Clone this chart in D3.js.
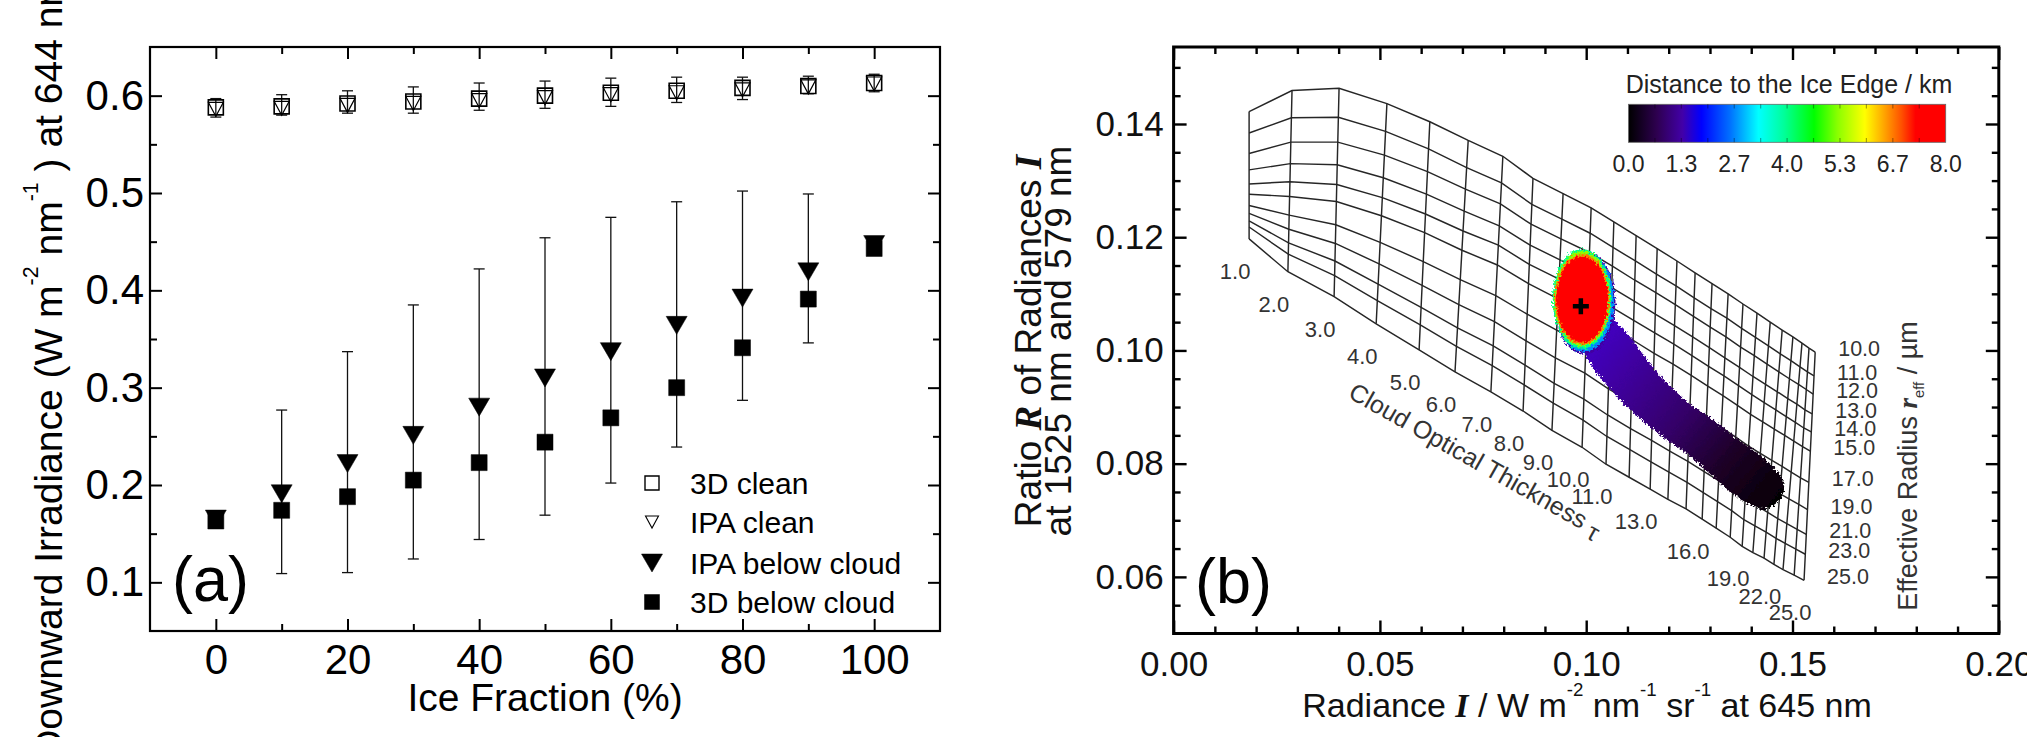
<!DOCTYPE html>
<html>
<head>
<meta charset="utf-8">
<script src="https://cdn.jsdelivr.net/npm/d3@7"></script>
<style>
  body { margin: 0; background: #fff; }
  svg { display: block; }
</style>
</head>
<body>
<svg id="fig" width="2027" height="737"></svg>
<script>
// ---------- panel (a) data ----------
const iceFraction = [0, 10, 20, 30, 40, 50, 60, 70, 80, 90, 100];
const clean3D    = [0.588, 0.589, 0.592, 0.594, 0.597, 0.600, 0.603, 0.605, 0.608, 0.610, 0.613];
const cleanIPA   = [0.586, 0.587, 0.590, 0.592, 0.595, 0.598, 0.601, 0.603, 0.606, 0.609, 0.612];
const cleanErrLo = [0.578, 0.580, 0.582, 0.582, 0.585, 0.587, 0.589, 0.593, 0.596, 0.602, 0.604];
const cleanErrHi = [0.597, 0.601, 0.605, 0.609, 0.613, 0.615, 0.618, 0.619, 0.619, 0.620, 0.622];
const belowIPA   = [0.165, 0.191, 0.222, 0.251, 0.280, 0.310, 0.337, 0.364, 0.392, 0.419, 0.447];
const below3D    = [0.163, 0.174, 0.188, 0.205, 0.223, 0.244, 0.269, 0.300, 0.341, 0.391, 0.443];
const belowErrLo = [0.156, 0.109, 0.110, 0.124, 0.144, 0.169, 0.202, 0.239, 0.287, 0.346, 0.437];
const belowErrHi = [0.173, 0.277, 0.337, 0.385, 0.422, 0.454, 0.475, 0.491, 0.502, 0.499, 0.453];
const legendLabels = ["3D clean", "IPA clean", "IPA below cloud", "3D below cloud"];

// ---------- panel (b) data ----------
const tauVals  = [1,2,3,4,5,6,7,8,9,10,11,12,13,14,15,16,17,18,19,20,21,22,23,24,25];
const tauLabels = [1,2,3,4,5,6,7,8,9,10,11,13,16,19,22,25];
const reffVals = [10, 11, 12, 13, 14, 15, 17, 19, 21, 23, 25];
// radiance of each tau column at reff = 10 and reff = 25
const radTop = [0.0183,0.0287,0.0401,0.0517,0.0621,0.0714,0.0798,0.0871,0.0944,0.1012,0.1067,0.1121,0.1172,0.1220,0.1264,0.1305,0.1344,0.1380,0.1414,0.1446,0.1475,0.1501,0.1523,0.1540,0.1555];
const radBot = [0.0183,0.0277,0.0389,0.0491,0.0595,0.0682,0.0769,0.0847,0.0917,0.0990,0.1048,0.1104,0.1155,0.1198,0.1242,0.1281,0.1315,0.1349,0.1378,0.1404,0.1431,0.1455,0.1477,0.1504,0.1528];
// ratio R at each (tau, reff) node, one row per tau
const ratioGrid = [
  [.1422,.1384,.1348,.1319,.1294,.1276,.1256,.1242,.1229,.1218,.1197],
  [.1459,.1411,.1368,.1330,.1298,.1272,.1239,.1214,.1190,.1170,.1139],
  [.1463,.1412,.1368,.1328,.1293,.1263,.1222,.1189,.1158,.1132,.1095],
  [.1436,.1387,.1345,.1305,.1270,.1238,.1191,.1153,.1117,.1088,.1047],
  [.1404,.1356,.1316,.1276,.1241,.1208,.1157,.1115,.1076,.1045,.1001],
  [.1371,.1323,.1285,.1246,.1211,.1177,.1125,.1081,.1040,.1007,.0962],
  [.1343,.1296,.1259,.1220,.1186,.1151,.1097,.1051,.1008,.0973,.0927],
  [.1304,.1258,.1223,.1186,.1152,.1118,.1064,.1017,.0974,.0939,.0893],
  [.1277,.1232,.1197,.1160,.1126,.1091,.1036,.0987,.0942,.0907,.0859],
  [.1252,.1207,.1173,.1135,.1101,.1066,.1009,.0960,.0914,.0877,.0829],
  [.1227,.1182,.1149,.1111,.1077,.1042,.0983,.0932,.0886,.0848,.0799],
  [.1203,.1158,.1124,.1087,.1053,.1018,.0960,.0909,.0862,.0825,.0776],
  [.1180,.1135,.1102,.1064,.1031,.0995,.0938,.0887,.0841,.0803,.0755],
  [.1158,.1114,.1081,.1044,.1011,.0976,.0918,.0868,.0822,.0785,.0737],
  [.1137,.1093,.1060,.1024,.0991,.0956,.0899,.0849,.0804,.0767,.0720],
  [.1118,.1074,.1041,.1005,.0972,.0937,.0881,.0831,.0786,.0749,.0702],
  [.1100,.1057,.1024,.0987,.0955,.0920,.0864,.0815,.0770,.0733,.0686],
  [.1082,.1039,.1006,.0970,.0938,.0903,.0847,.0798,.0753,.0717,.0670],
  [.1066,.1023,.0991,.0954,.0922,.0887,.0831,.0782,.0737,.0701,.0654],
  [.1050,.1008,.0976,.0940,.0908,.0874,.0818,.0770,.0726,.0690,.0643],
  [.1036,.0994,.0962,.0927,.0895,.0861,.0806,.0758,.0714,.0679,.0633],
  [.1024,.0982,.0950,.0915,.0883,.0850,.0795,.0747,.0703,.0668,.0622],
  [.1013,.0971,.0940,.0905,.0873,.0840,.0785,.0738,.0694,.0659,.0613],
  [.1004,.0962,.0931,.0895,.0863,.0830,.0775,.0728,.0684,.0649,.0603],
  [.0997,.0955,.0923,.0888,.0856,.0822,.0767,.0719,.0675,.0640,.0594]
];
// outline of the low-distance tail of the measurement cloud (radiance, ratio)
const tailOutline = [
  [.1048,.1091],[.1063,.1059],[.1101,.1029],[.1150,.0981],[.1198,.0941],[.1252,.0905],
  [.1305,.0879],[.1361,.0847],[.1409,.0822],[.1450,.0797],[.1475,.0774],[.1479,.0752],
  [.1465,.0733],[.1433,.0720],[.1397,.0727],[.1350,.0750],[.1300,.0782],[.1250,.0815],
  [.1200,.0840],[.1150,.0868],[.1100,.0900],[.1058,.0932],[.1022,.0964],[.0995,.0995],
  [.0978,.1025],[.0975,.1045]
];
const tailColors = ["#4300c6", "#3e0098", "#340068", "#1d0026", "#060006"];
// near-ice-edge core: rings of distance (km) with half-widths in data units
const coreCenter = [0.0990, 0.1090];
const coreRings = [
  { km: 1.3, rI: 0.0075, rR: 0.0091, dI: 0.0006, dR: -0.0005 },
  { km: 2.7, rI: 0.0073, rR: 0.0089, dI: 0.0004, dR: -0.0003 },
  { km: 4.0, rI: 0.0071, rR: 0.0088, dI: 0.0000, dR: 0.0001 },
  { km: 5.3, rI: 0.0068, rR: 0.0084, dI: 0.0000, dR: 0.0001 },
  { km: 6.7, rI: 0.0066, rR: 0.0080, dI: 0.0000, dR: 0.0000 },
  { km: 8.0, rI: 0.0063, rR: 0.0076, dI: 0.0000, dR: 0.0000 }
];
const crossPoint = [0.0987, 0.1078];
// colour table of the distance bar
const cbStops  = [0, 0.09, 0.17, 0.23, 0.32, 0.41, 0.49, 0.585, 0.66, 0.745, 0.80, 0.86, 0.905, 1];
const cbColors = ["#000000","#2e0050","#4200a8","#0000ff","#0070ff","#00ffff","#00ff9a","#00ff00","#8cff00","#ffff00","#ffae00","#ff5200","#ff0000","#ff0000"];
const cbLabels = ["0.0", "1.3", "2.7", "4.0", "5.3", "6.7", "8.0"];

// ---------- helpers ----------
const FONT = '"Liberation Sans", Arial, Helvetica, sans-serif';
const SERIF = '"Liberation Serif", "Times New Roman", serif';

const svg = d3.select("#fig");
svg.append("rect").attr("width", 2027).attr("height", 737).attr("fill", "#fff");
const defs = svg.append("defs");

function txt(g, x, y, size, anchor, rot) {
  const t = rot === undefined ? `translate(${x},${y})` : `translate(${x},${y}) rotate(${rot})`;
  return g.append("text")
    .attr("transform", t)
    .attr("font-family", FONT)
    .attr("font-size", size)
    .attr("text-anchor", anchor || "start");
}

// parts: strings or {t, sup|sub|low|bi}
function rich(sel, parts, size) {
  let shift = 0;
  parts.forEach(p => {
    if (typeof p === "string") p = { t: p };
    const ts = sel.append("tspan").text(p.t);
    let target = 0;
    if (p.sup) { ts.attr("font-size", size * 0.55); target = -0.62 * size; }
    if (p.sub) { ts.attr("font-size", size * 0.55); target = 0.25 * size; }
    if (p.low) target = 0.2 * size;
    if (p.bi) ts.attr("font-family", SERIF).attr("font-weight", "bold").attr("font-style", "italic");
    if (target !== shift) { ts.attr("dy", target - shift); shift = target; }
  });
  return sel;
}

function drawAxes(g, x, y, o) {
  const [x0, x1] = x.range(), [y0, y1] = y.range();
  const put = (axis, tr) => g.append("g").attr("transform", tr).call(axis);
  // minor ticks on all four sides
  put(d3.axisBottom(x).tickValues(o.xMinor).tickSize(-o.minor).tickFormat(""), `translate(0,${y0})`);
  put(d3.axisTop(x).tickValues(o.xMinor).tickSize(-o.minor).tickFormat(""), `translate(0,${y1})`);
  put(d3.axisLeft(y).tickValues(o.yMinor).tickSize(-o.minor).tickFormat(""), `translate(${x0},0)`);
  put(d3.axisRight(y).tickValues(o.yMinor).tickSize(-o.minor).tickFormat(""), `translate(${x1},0)`);
  // major ticks
  put(d3.axisTop(x).tickValues(o.xMajor).tickSize(-o.major).tickFormat(""), `translate(0,${y1})`);
  put(d3.axisRight(y).tickValues(o.yMajor).tickSize(-o.major).tickFormat(""), `translate(${x1},0)`);
  const bx = put(d3.axisBottom(x).tickValues(o.xMajor).tickSize(-o.major).tickPadding(o.padX).tickFormat(o.fmtX), `translate(0,${y0})`);
  const ly = put(d3.axisLeft(y).tickValues(o.yMajor).tickSize(-o.major).tickPadding(o.padY).tickFormat(o.fmtY), `translate(${x0},0)`);
  [bx, ly].forEach(a => a.attr("font-size", o.fontSize).attr("font-family", FONT)
    .selectAll("text").attr("fill", o.color));
  g.selectAll(".domain").remove();
  g.selectAll(".tick line").attr("stroke", "#000").attr("stroke-width", o.tickW);
  g.append("rect").attr("x", x0).attr("y", y1).attr("width", x1 - x0).attr("height", y0 - y1)
    .attr("fill", "none").attr("stroke", "#000").attr("stroke-width", o.frame);
}

const squarePath = s => `M${-s / 2},${-s / 2}h${s}v${s}h${-s}Z`;
const triPath = (w, h) => `M${-w / 2},${-h / 2}L${w / 2},${-h / 2}L0,${h / 2}Z`;

// ================= panel (a) =================
const ga = svg.append("g");
const xa = d3.scaleLinear().domain([-10, 110]).range([150, 940]);
const ya = d3.scaleLinear().domain([0.05, 0.65]).range([631, 47]);

drawAxes(ga, xa, ya, {
  xMajor: [0, 20, 40, 60, 80, 100], xMinor: [10, 30, 50, 70, 90],
  yMajor: [0.1, 0.2, 0.3, 0.4, 0.5, 0.6], yMinor: [0.15, 0.25, 0.35, 0.45, 0.55],
  major: 12, minor: 7, tickW: 2, frame: 2.2, padX: 13, padY: 6,
  fmtX: d3.format("d"), fmtY: d3.format(".1f"), fontSize: 42, color: "#000"
});

// error bars
function errorBars(lo, hi, cap) {
  const eb = ga.append("g").attr("stroke", "#111").attr("stroke-width", 1.3).attr("fill", "none");
  iceFraction.forEach((f, i) => {
    const cx = xa(f);
    eb.append("line").attr("x1", cx).attr("x2", cx).attr("y1", ya(lo[i])).attr("y2", ya(hi[i]));
    [lo[i], hi[i]].forEach(v => eb.append("line")
      .attr("x1", cx - cap).attr("x2", cx + cap).attr("y1", ya(v)).attr("y2", ya(v)));
  });
}
errorBars(belowErrLo, belowErrHi, 5.5);
errorBars(cleanErrLo, cleanErrHi, 5.5);

function markers(vals, d, fill, stroke) {
  ga.append("g").selectAll("path").data(vals).join("path")
    .attr("transform", (v, i) => `translate(${xa(iceFraction[i])},${ya(v)})`)
    .attr("d", d).attr("fill", fill).attr("stroke", "#000").attr("stroke-width", stroke);
}
markers(clean3D, squarePath(15), "none", 1.6);
markers(cleanIPA, triPath(15, 14), "none", 1.2);
markers(belowIPA, triPath(21, 18), "#000", 0.5);
markers(below3D, squarePath(16), "#000", 0.5);

// legend
const legSym = [
  { d: squarePath(14), fill: "none", sw: 1.4 },
  { d: triPath(13, 12), fill: "none", sw: 1.1 },
  { d: triPath(21, 18), fill: "#000", sw: 0.5 },
  { d: squarePath(15), fill: "#000", sw: 0.5 }
];
const legY = [483, 522, 563, 602];
legendLabels.forEach((lab, i) => {
  ga.append("path").attr("transform", `translate(652,${legY[i]})`)
    .attr("d", legSym[i].d).attr("fill", legSym[i].fill).attr("stroke", "#000").attr("stroke-width", legSym[i].sw);
  txt(ga, 690, legY[i] + 11, 30).text(lab);
});

txt(ga, 172, 601, 63).text("(a)");
txt(ga, 545, 711, 39, "middle").text("Ice Fraction (%)");
rich(txt(ga, 62, 366, 39, "middle", -90),
  ["Downward Irradiance (W m", { t: "-2", sup: 1 }, " nm", { t: "-1", sup: 1 }, " ) at 644 nm"], 39);

// ================= panel (b) =================
const gb = svg.append("g");
const xb = d3.scaleLinear().domain([0, 0.2]).range([1173.6, 1998.8]);
const yb = d3.scaleLinear().domain([0.05, 0.1536]).range([633.5, 47]);

drawAxes(gb, xb, yb, {
  xMajor: [0, 0.05, 0.1, 0.15, 0.2],
  xMinor: [0.01,0.02,0.03,0.04,0.06,0.07,0.08,0.09,0.11,0.12,0.13,0.14,0.16,0.17,0.18,0.19],
  yMajor: [0.06, 0.08, 0.10, 0.12, 0.14],
  yMinor: [0.055,0.065,0.07,0.075,0.085,0.09,0.095,0.105,0.11,0.115,0.125,0.13,0.135,0.145,0.15],
  major: 13, minor: 7, tickW: 2.4, frame: 3, padX: 18, padY: 10,
  fmtX: d3.format(".2f"), fmtY: d3.format(".2f"), fontSize: 35, color: "#111"
});

// LUT mesh: node radiance lies on the straight tau column at the node's ratio
const node = (t, j) => {
  const r = ratioGrid[t];
  const f = (r[0] - r[j]) / (r[0] - r[r.length - 1]);
  return [radTop[t] + f * (radBot[t] - radTop[t]), r[j]];
};
const meshLine = d3.line().x(d => xb(d[0])).y(d => yb(d[1]));
const mesh = gb.append("g").attr("fill", "none").attr("stroke", "#262626").attr("stroke-width", 1.45);
reffVals.forEach((rv, j) => mesh.append("path").attr("d", meshLine(tauVals.map((tv, t) => node(t, j)))));
tauVals.forEach((tv, t) => mesh.append("path").attr("d", meshLine(reffVals.map((rv, j) => node(t, j)))));

// tau labels under the reff = 25 edge, reff labels right of the tau = 25 edge
const gl = gb.append("g").attr("fill", "#333");
tauLabels.forEach(tv => {
  const p = node(tauVals.indexOf(tv), reffVals.length - 1);
  txt(gl, xb(p[0]) - 14, yb(p[1]) + 40, 22, "middle").text(tv.toFixed(1));
});
reffVals.forEach((rv, j) => {
  const p = node(tauVals.length - 1, j);
  txt(gl, xb(p[0]) + 23, yb(p[1]) + 4, 21.5).text(rv.toFixed(1));
});
rich(txt(gl, 1347, 397, 25, "start", 29.5), ["Cloud Optical Thickness ", { t: "τ", low: 1 }], 25);
rich(txt(gl, 1917, 466, 27, "middle", -90),
  ["Effective Radius ", { t: "r", bi: 1 }, { t: "eff", sub: 1 }, " / µm"], 27);

// colour scale
const cbColor = d3.scaleLinear().domain(cbStops.map(s => s * 8)).range(cbColors);
const cbX = d3.scaleLinear().domain([0, 8]).range([1628.5, 1945.7]);

// measurement cloud
const rough = defs.append("filter").attr("id", "rough").attr("x", "-20%").attr("y", "-20%").attr("width", "140%").attr("height", "140%");
rough.append("feTurbulence").attr("type", "fractalNoise").attr("baseFrequency", 0.45).attr("numOctaves", 2).attr("seed", 4).attr("result", "n");
rough.append("feDisplacementMap").attr("in", "SourceGraphic").attr("in2", "n").attr("scale", 7)
  .attr("xChannelSelector", "R").attr("yChannelSelector", "G");

const tg = defs.append("linearGradient").attr("id", "tailGrad").attr("gradientUnits", "userSpaceOnUse")
  .attr("x1", xb(0.100)).attr("y1", yb(0.102)).attr("x2", xb(0.146)).attr("y2", yb(0.074));
tailColors.forEach((c, i) => tg.append("stop").attr("offset", i / (tailColors.length - 1)).attr("stop-color", c));

const cloud = gb.append("g").attr("filter", "url(#rough)");
cloud.append("path").attr("d", d3.line().x(d => xb(d[0])).y(d => yb(d[1])).curve(d3.curveCatmullRomClosed)(tailOutline))
  .attr("fill", "url(#tailGrad)");
coreRings.forEach(r => {
  cloud.append("ellipse")
    .attr("cx", xb(coreCenter[0] + r.dI)).attr("cy", yb(coreCenter[1] + r.dR))
    .attr("rx", xb(r.rI) - xb(0)).attr("ry", yb(0) - yb(r.rR))
    .attr("fill", cbColor(r.km));
});
const cx = xb(crossPoint[0]), cy = yb(crossPoint[1]);
gb.append("path").attr("d", `M${cx - 8},${cy}H${cx + 8}M${cx},${cy - 8}V${cy + 8}`)
  .attr("stroke", "#000").attr("stroke-width", 4.5);

// colour bar
const cg = defs.append("linearGradient").attr("id", "cbGrad");
cbStops.forEach((s, i) => cg.append("stop").attr("offset", s).attr("stop-color", cbColors[i]));
gb.append("rect").attr("x", cbX(0)).attr("y", 104.3).attr("width", cbX(8) - cbX(0)).attr("height", 38)
  .attr("fill", "url(#cbGrad)").attr("stroke", "#666").attr("stroke-width", 0.8);
const cbTicks = gb.append("g").attr("stroke", "rgba(0,0,0,0.35)").attr("stroke-width", 1.2);
d3.range(1, 12).forEach(k => {
  const xx = cbX(k * 8 / 12);
  cbTicks.append("line").attr("x1", xx).attr("x2", xx).attr("y1", 104.3).attr("y2", 108.5);
  cbTicks.append("line").attr("x1", xx).attr("x2", xx).attr("y1", 138).attr("y2", 142.3);
});
cbLabels.forEach((lab, i) => txt(gb, cbX(i * 8 / 6), 172, 23, "middle").attr("fill", "#222").text(lab));
txt(gb, 1789, 93, 25, "middle").attr("fill", "#222").text("Distance to the Ice Edge / km");

txt(gb, 1195, 603, 63).text("(b)");
rich(txt(gb, 1587, 717, 34, "middle").attr("fill", "#111"),
  ["Radiance ", { t: "I", bi: 1 }, " / W m", { t: "-2", sup: 1 }, " nm", { t: "-1", sup: 1 },
   " sr", { t: "-1", sup: 1 }, " at 645 nm"], 34);
rich(txt(gb, 1041, 341, 37, "middle", -90).attr("fill", "#111"),
  ["Ratio ", { t: "R", bi: 1 }, " of Radiances ", { t: "I", bi: 1 }], 37);
txt(gb, 1071, 341, 37, "middle", -90).attr("fill", "#111").text("at 1525 nm and 579 nm");
</script>
</body>
</html>
